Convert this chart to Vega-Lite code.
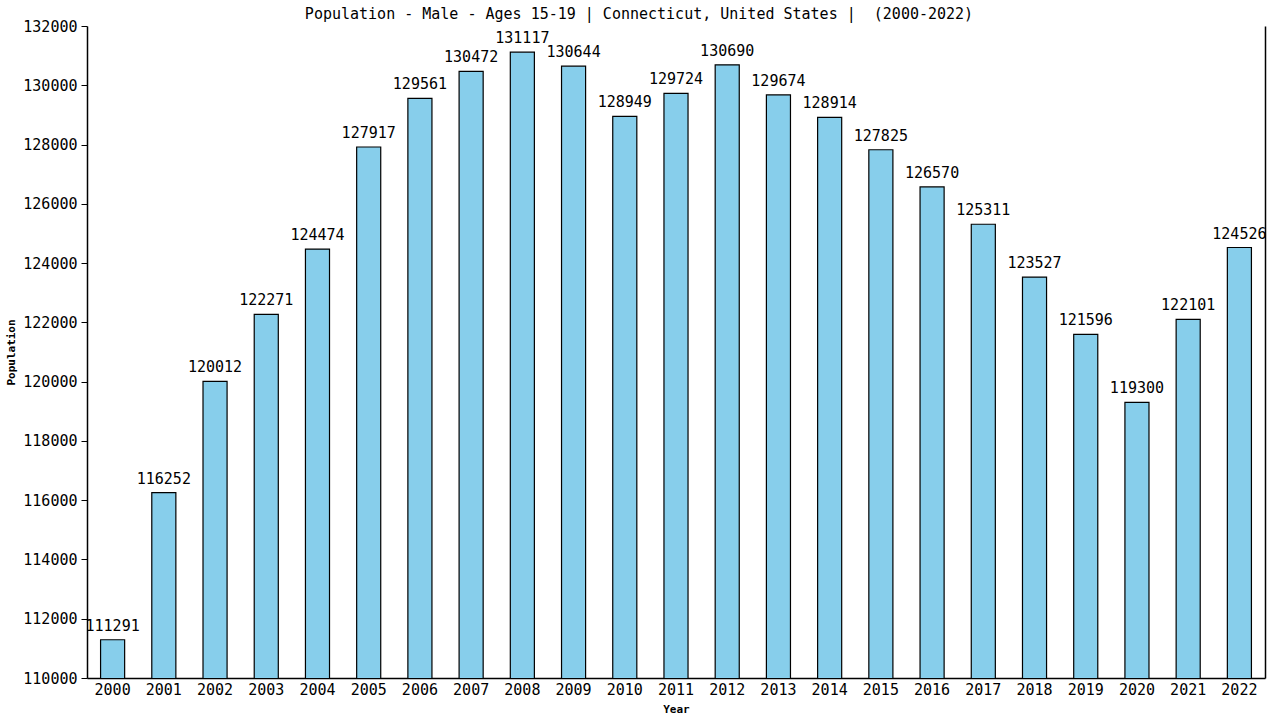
{
  "$schema": "https://vega.github.io/schema/vega-lite/v6.json",
  "width": 1178,
  "height": 652,
  "autosize": {"type": "none"},
  "padding": {"left": 87, "top": 26, "right": 15, "bottom": 42},
  "background": "white",
  "title": {"text": "Population - Male - Ages 15-19 | Connecticut, United States | \u00a0(2000-2022)", "font": "DejaVu Sans Mono", "fontSize": 15, "fontWeight": "normal", "color": "black", "anchor": "middle", "offset": -3, "dx": -37},
  "config": {"view": {"stroke": null}},
  "data": {"values": [
    {"year": "2000", "pop": 111291},
    {"year": "2001", "pop": 116252},
    {"year": "2002", "pop": 120012},
    {"year": "2003", "pop": 122271},
    {"year": "2004", "pop": 124474},
    {"year": "2005", "pop": 127917},
    {"year": "2006", "pop": 129561},
    {"year": "2007", "pop": 130472},
    {"year": "2008", "pop": 131117},
    {"year": "2009", "pop": 130644},
    {"year": "2010", "pop": 128949},
    {"year": "2011", "pop": 129724},
    {"year": "2012", "pop": 130690},
    {"year": "2013", "pop": 129674},
    {"year": "2014", "pop": 128914},
    {"year": "2015", "pop": 127825},
    {"year": "2016", "pop": 126570},
    {"year": "2017", "pop": 125311},
    {"year": "2018", "pop": 123527},
    {"year": "2019", "pop": 121596},
    {"year": "2020", "pop": 119300},
    {"year": "2021", "pop": 122101},
    {"year": "2022", "pop": 124526}
  ]},
  "encoding": {
    "x": {"field": "year", "type": "nominal", "scale": {"paddingInner": 0.53, "paddingOuter": 0.265},
      "axis": {"title": "Year", "titleFont": "DejaVu Sans Mono", "titleFontSize": 11, "titleFontWeight": "bold", "titleColor": "black", "titlePadding": 6,
        "labelFont": "DejaVu Sans Mono", "labelFontSize": 15, "labelColor": "black", "labelAngle": 0, "labelPadding": 4, "ticks": false, "domainColor": "black", "domainWidth": 1.5}},
    "y": {"field": "pop", "type": "quantitative", "scale": {"domain": [110000, 132000], "zero": false, "nice": false}}
  },
  "layer": [
    {
      "mark": {"type": "bar", "fill": "#87ceeb", "stroke": "black", "strokeWidth": 1.2, "clip": true},
      "encoding": {
        "y": {"field": "pop", "type": "quantitative", "scale": {"domain": [110000, 132000], "zero": false, "nice": false},
          "axis": {"title": "Population", "titleFont": "DejaVu Sans Mono", "titleFontSize": 11, "titleFontWeight": "bold", "titleColor": "black", "titlePadding": 6,
            "values": [110000,112000,114000,116000,118000,120000,122000,124000,126000,128000,130000,132000],
            "format": "d", "labelFont": "DejaVu Sans Mono", "labelFontSize": 15, "labelColor": "black", "labelPadding": 4, "tickSize": 6, "tickColor": "black", "domainColor": "black", "domainWidth": 1.5, "grid": false}}
      }
    },
    {
      "mark": {"type": "text", "baseline": "bottom", "dy": -6, "font": "DejaVu Sans Mono", "fontSize": 15, "color": "black"},
      "encoding": {
        "text": {"field": "pop", "type": "quantitative", "format": "d"},
        "y": {"field": "pop", "type": "quantitative", "scale": {"domain": [110000, 132000], "zero": false, "nice": false},
          "axis": {"orient": "right", "title": null, "labels": false, "ticks": false, "grid": false, "domainColor": "black", "domainWidth": 1.5}}
      }
    }
  ],
  "resolve": {"axis": {"y": "independent"}}
}
